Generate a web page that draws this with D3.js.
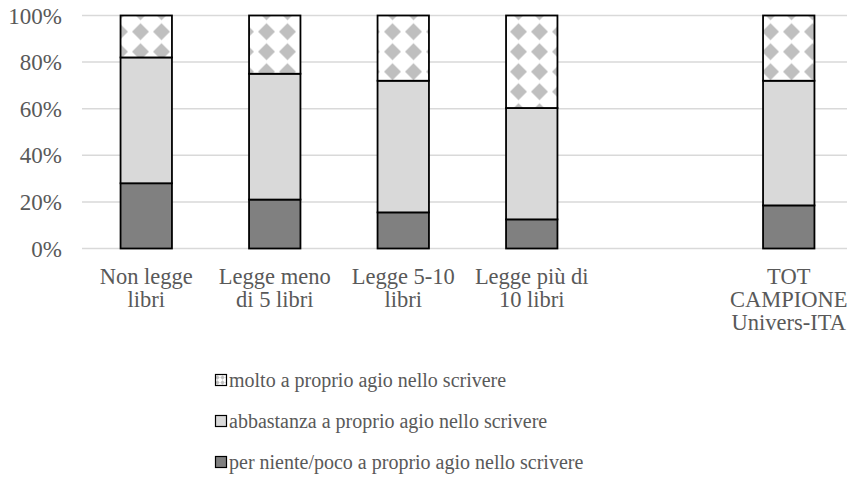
<!DOCTYPE html>
<html><head><meta charset="utf-8">
<script src="https://cdn.jsdelivr.net/npm/d3@7"></script>
<style>
html,body{margin:0;padding:0;background:#fff;overflow:hidden}
svg text{font-family:"Liberation Serif";}
</style></head>
<body><svg id="c" width="847" height="481" font-family="Liberation Serif"></svg>
<script>
// slots (the empty string is a blank slot in the original chart)
const slots = ["Non legge libri","Legge meno di 5 libri","Legge 5-10 libri","Legge più di 10 libri","","TOT CAMPIONE Univers-ITA"];
const categories = ["Non legge libri","Legge meno di 5 libri","Legge 5-10 libri","Legge più di 10 libri","TOT CAMPIONE Univers-ITA"];
const categoryLines = [["Non legge","libri"],["Legge meno","di 5 libri"],["Legge 5-10","libri"],["Legge più di","10 libri"],["TOT","CAMPIONE","Univers-ITA"]];
const perNiente = [28, 21, 15.5, 12.5, 18.5];
const abbastanza = [54, 54, 56.5, 47.8, 53.5];
const molto = [18, 25, 28, 39.7, 28];
const seriesNames = ["per niente/poco a proprio agio nello scrivere","abbastanza a proprio agio nello scrivere","molto a proprio agio nello scrivere"];
const yTicks = [0, 0.2, 0.4, 0.6, 0.8, 1];

const svg = d3.select("#c");
const defs = svg.append("defs");
const pat = defs.append("pattern").attr("id","dmnd2").attr("patternUnits","userSpaceOnUse")
  .attr("width",21).attr("height",20).attr("x",4).attr("y",1.7);
pat.append("rect").attr("width",21).attr("height",20).attr("fill","#fff");
pat.append("path").attr("d","M10.5,1.5 L19,10 L10.5,18.5 L2,10 Z").attr("fill","#BFBFBF");

const patS = defs.append("pattern").attr("id","dmndS").attr("patternUnits","userSpaceOnUse")
  .attr("width",5).attr("height",5).attr("x",0).attr("y",0);
patS.append("rect").attr("width",5).attr("height",5).attr("fill","#fff");
patS.append("path").attr("d","M2.5,0.3 L4.7,2.5 L2.5,4.7 L0.3,2.5 Z").attr("fill","#BFBFBF");

const fills = ["#808080","#D9D9D9","url(#dmnd2)"];
const legendFills = ["#808080","#D9D9D9","url(#dmndS)"];

const x = d3.scaleBand().domain(slots).range([82, 853]).paddingInner(0.6).paddingOuter(0.3);
const y = d3.scaleLinear().domain([0,1]).range([248.5, 15.5]);

// gridlines
svg.append("g").selectAll("line").data(yTicks).join("line")
  .attr("x1",82).attr("x2",847).attr("y1",d=>y(d)).attr("y2",d=>y(d))
  .attr("stroke","#D9D9D9").attr("stroke-width",1.5);

// y axis labels
const yAxis = d3.axisLeft(y).tickValues(yTicks).tickFormat(d3.format(".0%")).tickSize(0).tickPadding(0);
const ga = svg.append("g").attr("transform","translate(62,0)").call(yAxis);
ga.attr("font-family","Liberation Serif").attr("font-size",23);
ga.select(".domain").remove();
ga.selectAll("text").attr("fill","#595959").attr("dy","0.33em");

// stack data
const rows = categories.map((c,i)=>{
  const t = perNiente[i]+abbastanza[i]+molto[i];
  return {cat:c, a:perNiente[i]/t, b:abbastanza[i]/t, c:molto[i]/t};
});
const stack = d3.stack().keys(["a","b","c"])(rows);

svg.append("g").selectAll("g").data(stack).join("g")
  .attr("fill",(d,i)=>fills[i])
  .selectAll("rect").data(d=>d).join("rect")
  .attr("x",d=>x(d.data.cat)).attr("width",x.bandwidth())
  .attr("y",d=>y(d[1])).attr("height",d=>y(d[0])-y(d[1]))
  .attr("stroke","#000").attr("stroke-width",1.8);

// x labels
const xl = svg.append("g").attr("font-family","Liberation Serif").selectAll("text").data(categories).join("text")
  .attr("text-anchor","middle").attr("font-size",22.5).attr("fill","#595959")
  .attr("x",d=>x(d)+x.bandwidth()/2).attr("y",284);
xl.each(function(d,i){
  const t = d3.select(this);
  categoryLines[i].forEach((ln,j)=>{
    t.append("tspan").attr("x",x(d)+x.bandwidth()/2).attr("y",284+j*23).text(ln);
  });
});

// legend (reverse order)
const legOrder = [2,1,0];
const lg = svg.append("g").attr("font-family","Liberation Serif").selectAll("g").data(legOrder).join("g")
  .attr("transform",(d,i)=>`translate(215,${380+i*41})`);
lg.append("rect").attr("x",0.5).attr("y",-5.5).attr("width",11).attr("height",11)
  .attr("fill",d=>legendFills[d]).attr("stroke","#000").attr("stroke-width",1.2);
lg.append("text").attr("x",14).attr("y",0).attr("dy","0.33em").attr("font-size",20)
  .attr("fill","#595959")
  .text(d=>seriesNames[d]);
</script></body></html>
